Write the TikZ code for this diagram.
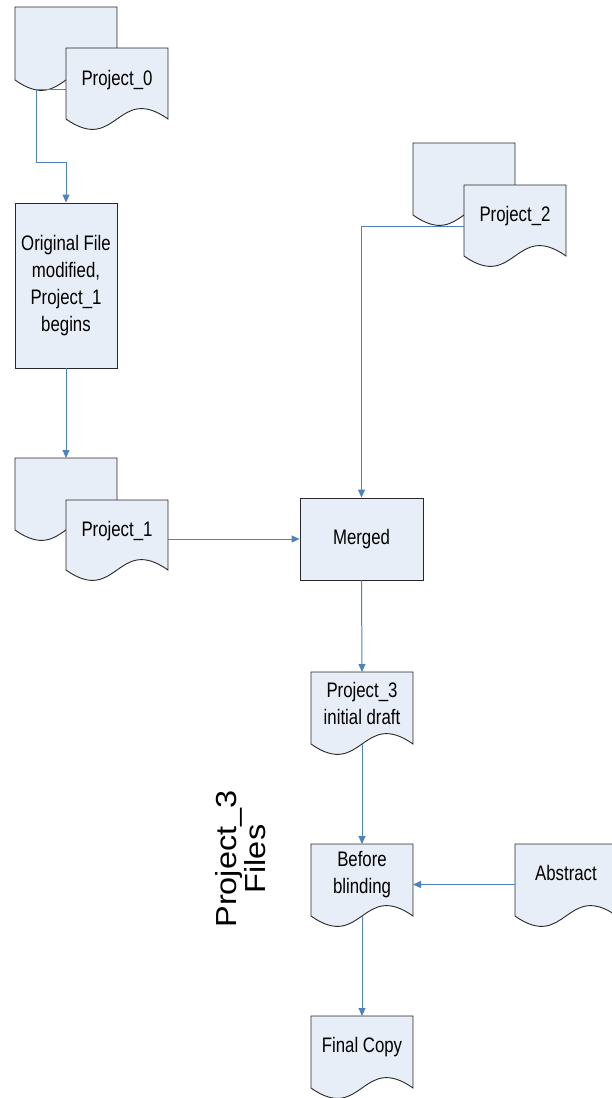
\documentclass[tikz,border=0pt]{standalone}
\usepackage{fontspec}
\usetikzlibrary{arrows.meta,calc}
\newfontfamily\df[FakeStretch=0.8]{Liberation Sans}
\newfontfamily\bigf[FakeStretch=1.12]{Liberation Sans}
\definecolor{docfill}{RGB}{232,238,247}
\definecolor{conn}{RGB}{79,129,189}
\definecolor{edge}{RGB}{40,40,40}
\tikzset{
  shapeline/.style={draw=edge, line width=0.9pt, fill=docfill},
  holder/.style={inner sep=0pt, outer sep=0pt, draw=none},
  lbl/.style={font=\df\fontsize{21}{27}\selectfont, align=center, inner sep=0pt},
  connector/.style={draw=conn, line width=1pt},
  arrowconn/.style={connector, -{Triangle[length=8pt,width=7pt]}},
}
% \docnode{name}{x0}{top}{x1}{yb}
\newcommand{\docnode}[5]{%
  \path[shapeline] (#2,#3) -- (#4,#3) -- (#4,#5)
    .. controls ({(#2+#4)/2},#5-36) and ({(#2+#4)/2},#5+36) .. (#2,#5) -- cycle;
  \node[holder, minimum width={#4-#2}, minimum height={#5-#3}] (#1) at ({(#2+#4)/2},{(#3+#5)/2}) {};
}
\begin{document}
\begin{tikzpicture}[x=1pt,y=-1pt]
\useasboundingbox (0,0) rectangle (612,1098);
\clip (0,0) rectangle (612,1098);

% Project_0 multi-document
\docnode{p0b}{15}{7}{117}{80}
\docnode{p0f}{66}{48}{168}{119}
\node[lbl] (t0) at (117,80) {Project\_0};

% Original File box
\node[shapeline, minimum width=102pt, minimum height=165pt, inner sep=0pt] (orig) at (66,285.5) {};
\node[lbl] (torig) at (orig.center) {Original File\\modified,\\Project\_1\\begins};

% Project_1 multi-document
\docnode{p1b}{15}{458}{117}{530}
\docnode{p1f}{66}{500}{168}{570}
\node[lbl] (t1) at (117,531) {Project\_1};

% Merged
\node[shapeline, minimum width=123pt, minimum height=82pt, inner sep=0pt] (merged) at (361.5,539) {};
\node[lbl] (tm) at (merged.center) {Merged};

% Project_2 multi-document
\docnode{p2b}{413}{143}{515}{215}
\docnode{p2f}{464}{185}{566}{256}
\node[lbl] (t2) at (515,216) {Project\_2};

% Project_3 initial draft
\docnode{p3}{311}{672}{413}{744}
\node[lbl] (t3) at (362,703) {Project\_3\\initial draft};

% Before blinding
\docnode{bb}{311}{844}{413}{916}
\node[lbl] (tbb) at (362,875) {Before\\blinding};

% Abstract
\docnode{ab}{515}{844}{617}{916}
\node[lbl] (tab) at (566,873) {Abstract};

% Final Copy
\docnode{fc}{311}{1016}{413}{1088}
\node[lbl] (tfc) at (362,1047) {Final Copy};

% side label
\node[font=\bigf\fontsize{29}{29}\selectfont, align=center, rotate=90, inner sep=0pt] (files) at (241,859) {Project\_3\\Files};

% connectors
\coordinate (p0out) at (36,89);
\draw[arrowconn] (p0f.west |- p0out) -- (p0out) -- (36,162) -| (orig.north);
\draw[arrowconn] (orig.south) -- (p1b.north);
\draw[arrowconn] (p1f.east |- merged.west) -- (merged.west);
\coordinate (p2out) at ($(p2f.west)+(0,5.5)$);
\draw[arrowconn] (p2out) -| (merged.north);
\draw[arrowconn] (merged.south) -- (p3.north);
\draw[arrowconn] (p3.south) -- (bb.north);
\coordinate (abin) at ($(ab.west)+(0,4.5)$);
\draw[arrowconn] (abin) -- (abin -| bb.east);
\draw[arrowconn] (bb.south) -- (fc.north);
\end{tikzpicture}
\end{document}
